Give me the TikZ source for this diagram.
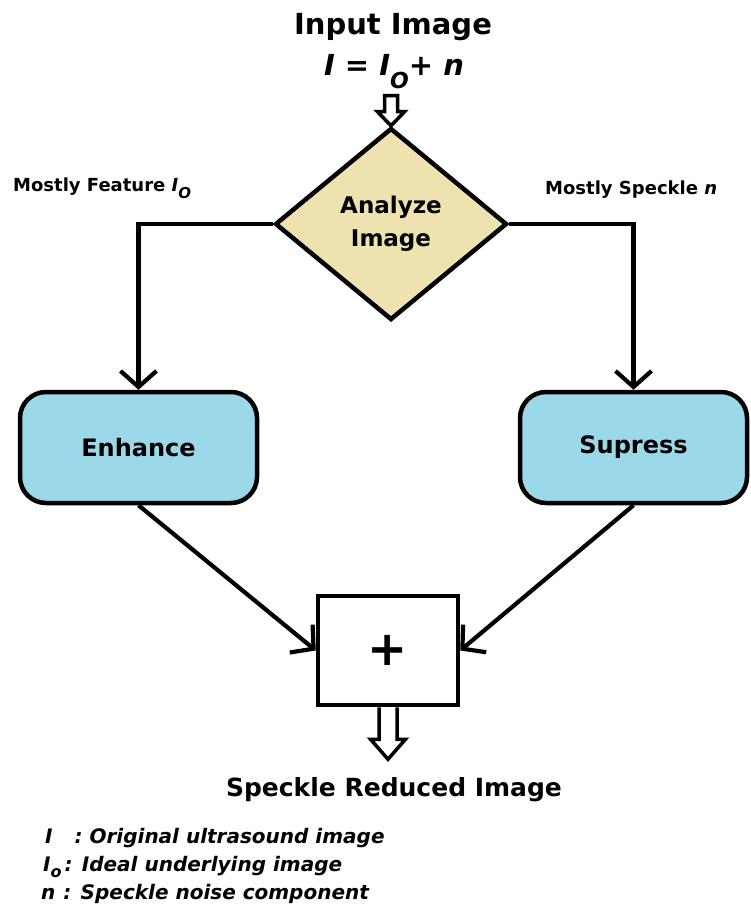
\documentclass[tikz,border=0pt]{standalone}
\usepackage{fontspec}
\setmainfont{DejaVu Sans}
\usetikzlibrary{shapes.geometric,arrows.meta,calc}
\definecolor{decisionfill}{RGB}{238,226,176}
\definecolor{procfill}{RGB}{154,216,234}

\tikzset{
  lbl/.style={inner sep=0pt, text=black, font=\bfseries},
  decision/.style={diamond, draw=black, line width=4.5pt, fill=decisionfill,
    minimum width=232pt, minimum height=192pt, aspect=1.21, inner sep=0pt,
    align=center, font=\bfseries\fontsize{23}{33}\selectfont},
  process/.style={rectangle, rounded corners=26pt, draw=black, line width=4.5pt,
    fill=procfill, minimum height=111pt, inner sep=0pt,
    font=\bfseries\fontsize{24}{28}\selectfont},
  sumbox/.style={rectangle, draw=black, line width=4.5pt, fill=white,
    minimum width=140pt, minimum height=109pt, inner sep=0pt,
    font=\bfseries\fontsize{48}{48}\selectfont},
  conn/.style={draw=black, line width=4.2pt,
    -{Straight Barb[length=16pt,width=36pt]}},
  hollow/.style={draw=black, line width=3.5pt, fill=white, line join=miter},
}

\begin{document}
\begin{tikzpicture}[x=1pt,y=-1pt]
\useasboundingbox (0,0) rectangle (750,909);

% title and model equation
\node[lbl, anchor=base, font=\bfseries\fontsize{29}{34}\selectfont] (title) at (393,35) {Input Image};
\node[lbl, anchor=base, font=\bfseries\itshape\fontsize{29}{34}\selectfont] (eqn) at (394,76)
  {I = I\raisebox{-13pt}{\fontsize{22}{22}\selectfont O}+ n};

% decision
\node[decision] (dec) at (391,224) {Analyze\\Image};

% branch labels
\node[lbl, anchor=base west, font=\bfseries\fontsize{18}{21}\selectfont] (featlbl) at (13,192)
  {Mostly Feature \textit{I}\raisebox{-7pt}{\itshape\fontsize{15}{15}\selectfont O}};
\node[lbl, anchor=base west, font=\bfseries\fontsize{18}{21}\selectfont] (specklbl) at (545,195)
  {Mostly Speckle \textit{n}};

% processing blocks
\node[process, minimum width=237pt] (enh) at (138.5,447.5) {Enhance};
\node[process, minimum width=227pt] (sup) at (633.5,447.5) {Supress};

% summation
\node[sumbox] (plus) at (388,650.5) {+};

% output label
\node[lbl, anchor=base, font=\bfseries\fontsize{25}{30}\selectfont] (outlbl) at (394,796) {Speckle Reduced Image};

% legend
\node[lbl, anchor=base west, font=\bfseries\itshape\fontsize{20}{24}\selectfont] (leg1) at (45,843)
  {I\hspace{22pt}: Original ultrasound image};
\node[lbl, anchor=base west, font=\bfseries\itshape\fontsize{20}{24}\selectfont] (leg2) at (43,871)
  {I\raisebox{-6pt}{\fontsize{16}{16}\selectfont o}\hspace{3pt}: Ideal underlying image};
\node[lbl, anchor=base west, font=\bfseries\itshape\fontsize{20}{24}\selectfont] (leg3) at (41,899)
  {n\hspace{8pt}: Speckle noise component};

% input arrow into the decision
\draw[hollow] (dec.north) -- ++(-13.5,-14) -- ++(7,0) -- ++(0,-16) -- ++(13,0)
  -- ++(0,16) -- ++(7,0) -- cycle;

% branches
\draw[conn] (dec.west) -| (enh.north);
\draw[conn] (dec.east) -| (sup.north);
\draw[conn] (enh.south) -- (plus.west);
\draw[conn] (sup.south) -- (plus.east);

% output arrow
\draw[hollow] ($(plus.south)+(-9,0)$) -- ++(0,32) -- ++(-8.5,0) -- ++(17.5,20)
  -- ++(17.5,-20) -- ++(-8.5,0) -- ++(0,-32);
\end{tikzpicture}
\end{document}
